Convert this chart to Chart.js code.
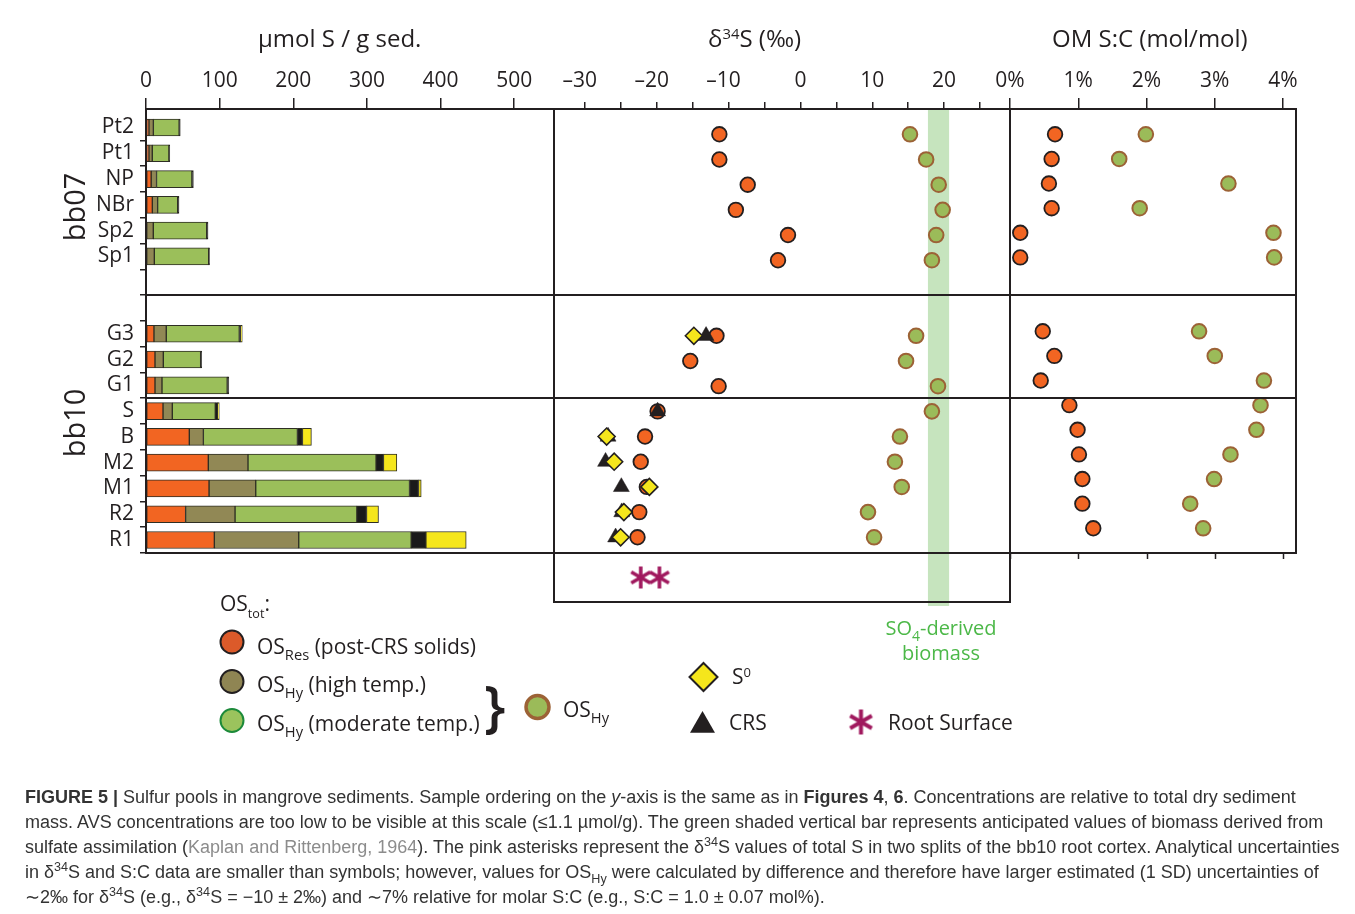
<!DOCTYPE html>
<html>
<head>
<meta charset="utf-8">
<script src="https://cdn.jsdelivr.net/npm/chart.js@4.4.1/dist/chart.umd.min.js"></script>
<style>
  html, body { margin: 0; padding: 0; background: #fff; }
  #fig { position: relative; width: 1355px; height: 914px; overflow: hidden;
         font-family: "Open Sans", sans-serif; color: #231f20; background: #fff; }
  #fig canvas { position: absolute; left: 0; top: 0; }
  .t { position: absolute; white-space: nowrap; line-height: 1; }
  .t sub { font-size: 0.7em; vertical-align: -0.4em; line-height: 0; }
  .t sup { font-size: 0.62em; vertical-align: 0.55em; line-height: 0; }
  .grp { position: absolute; white-space: nowrap; line-height: 1; font-size: 29px;
         transform: translate(-50%, -50%) rotate(-90deg); }
  #cap { position: absolute; left: 25px; top: 785px; font-family: "Liberation Sans", Arial, sans-serif;
         font-size: 18px; line-height: 25px; color: #333; white-space: nowrap; }
  #cap sup, #cap sub { font-size: 0.7em; line-height: 0; }
  #cap .ref { color: #8c8c8c; }
</style>
</head>
<body>
<div id="fig">
  <canvas id="concChart" width="1355" height="914"></canvas>
  <canvas id="d34Chart" width="1355" height="914"></canvas>
  <canvas id="scChart" width="1355" height="914"></canvas>

  <!-- panel titles -->
  <div class="t" style="left:258px;top:26px;font-size:24px;">µmol S / g sed.</div>
  <div class="t" style="left:708px;top:26px;font-size:24px;">δ<sup>34</sup>S (‰)</div>
  <div class="t" style="left:1052px;top:26px;font-size:24px;">OM S:C (mol/mol)</div>

  <!-- site groups -->
  <div class="grp" style="left:73px;top:207px;">bb07</div>
  <div class="grp" style="left:73px;top:423px;">bb10</div>

  <!-- legend text -->
  <div class="t" style="left:220px;top:593px;font-size:21px;">OS<sub style="font-size:0.6em;vertical-align:-0.55em">tot</sub>:</div>
  <div class="t" style="left:257px;top:636px;font-size:21px;">OS<sub>Res</sub> (post-CRS solids)</div>
  <div class="t" style="left:257px;top:674px;font-size:21px;">OS<sub>Hy</sub> (high temp.)</div>
  <div class="t" style="left:257px;top:713px;font-size:21px;">OS<sub>Hy</sub> (moderate temp.)</div>
  <div class="t" style="left:484px;top:676px;font-size:56px;font-weight:600;">}</div>
  <div class="t" style="left:563px;top:699px;font-size:21px;">OS<sub>Hy</sub></div>
  <div class="t" style="left:732px;top:666px;font-size:21px;">S<sup>0</sup></div>
  <div class="t" style="left:729px;top:712px;font-size:21px;">CRS</div>
  <div class="t" style="left:888px;top:712px;font-size:21px;">Root Surface</div>
  <div class="t" style="left:841px;width:200px;text-align:center;top:615px;font-size:20px;line-height:25px;color:#4cb848;">SO<sub>4</sub>-derived<br>biomass</div>

  <div id="cap">
    <b>FIGURE 5 |</b> Sulfur pools in mangrove sediments. Sample ordering on the <i>y</i>-axis is the same as in <b>Figures 4</b>, <b>6</b>. Concentrations are relative to total dry sediment<br>
    mass. AVS concentrations are too low to be visible at this scale (≤1.1 µmol/g). The green shaded vertical bar represents anticipated values of biomass derived from<br>
    sulfate assimilation (<span class="ref">Kaplan and Rittenberg, 1964</span>). The pink asterisks represent the δ<sup>34</sup>S values of total S in two splits of the bb10 root cortex. Analytical uncertainties<br>
    in δ<sup>34</sup>S and S:C data are smaller than symbols; however, values for OS<sub>Hy</sub> were calculated by difference and therefore have larger estimated (1 SD) uncertainties of<br>
    ∼2‰ for δ<sup>34</sup>S (e.g., δ<sup>34</sup>S = −10 ± 2‰) and ∼7% relative for molar S:C (e.g., S:C = 1.0 ± 0.07 mol%).
  </div>
</div>

<script>
// ---- samples ----
const bb07 = ['Pt2', 'Pt1', 'NP', 'NBr', 'Sp2', 'Sp1'];
const bb10 = ['G3', 'G2', 'G1', 'S', 'B', 'M2', 'M1', 'R2', 'R1'];

// ---- sulfur pools, µmol S / g dry sediment ----
const osRes    = [4, 4, 7, 8.6, null, null,        10.8, 12.2, 12.2, 23.1, 58.8, 84.6, 85.6, 53.8, 92.8];
const osHyHigh = [6, 4.5, 7.3, 7.2, 9.9, 11.3,     16.7, 11.3, 9.5, 12.6, 19.1, 53.9, 63.4, 67.1, 114.6];
const osHyMod  = [35, 22.6, 48, 27.2, 72.5, 73.8,  99.2, 50.7, 88.6, 58.4, 127.7, 173.9, 208.8, 165.4, 152.7];
const crs      = [1.5, 1.2, 2, 1.8, 1.8, 1.2,      1.5, 1.5, 2.2, 3.2, 6.8, 10, 12.2, 13.1, 19.9];
const s0       = [null, null, null, null, null, null, 2.5, null, null, 2.2, 12.2, 18.2, 3.7, 16.3, 54.8];

// ---- δ34S, ‰ ----
const d34Res = [-11.3, -11.3, -7.35, -9.0, -1.74, -3.13,   -11.7, -15.35, -11.4, -19.9, -21.65, -22.25, -21.4, -22.45, -22.7];
const d34Hy  = [15.25, 17.5, 19.25, 19.8, 18.9, 18.3,      16.1, 14.7, 19.15, 18.3, 13.85, 13.15, 14.1, 9.4, 10.25];
const d34Crs = [null, null, null, null, null, null,        -13.15, null, null, -19.9, -26.8, -27.15, -24.95, -24.9, -25.75];
const d34S0  = [null, null, null, null, null, null,        -14.85, null, null, null, -27.0, -25.95, -21.05, -24.6, -25.05];
const d34RootSurface = [-22.25, -19.65];
const biomassRange = [17.75, 20.7];

// ---- organic matter S:C, mol % ----
const scRes = [0.66, 0.61, 0.57, 0.61, 0.15, 0.15,  0.48, 0.65, 0.45, 0.87, 0.99, 1.01, 1.06, 1.06, 1.22];
const scHy  = [1.99, 1.60, 3.20, 1.90, 3.86, 3.87,  2.77, 3.00, 3.72, 3.67, 3.61, 3.23, 2.99, 2.64, 2.83];

// ---- tick values ----
const concTicks = [0, 100, 200, 300, 400, 500];
const d34Ticks = [-30, -25, -20, -15, -10, -5, 0, 5, 10, 15, 20, 25];
const scTicks = [0, 1, 2, 3, 4];

// ---- layout ----
const INK = '#231f20';
const FONT = '"Open Sans", sans-serif';
Chart.defaults.font.family = FONT;
Chart.defaults.color = INK;

const samples = bb07.concat(bb10);
const GROUP_GAP = 2;
const rows = samples.map((s, i) => (i < bb07.length ? i : i + GROUP_GAP));
const lastRow = rows[rows.length - 1];
const groupDividers = [bb07.length - 1 + (GROUP_GAP + 1) / 2, rows[bb07.length + 2] + 0.5];
const rowBoundaries = [];
for (let b = 0.5; b <= lastRow + 0.5; b += 1) rowBoundaries.push(b);
const labelAt = v => { const i = rows.indexOf(v); return i >= 0 ? samples[i] : ''; };

const TOP = 109, PANEL_BOTTOM = 553, ROOT_BOTTOM = 602;
// pixel rows of the first and last sample in each panel
const rowSpan = { conc: [127.5, 540], d34: [134.3, 537.3], sc: [134.3, 528.3] };
function rowRange(span, top, bottom) {
  const per = (span[1] - span[0]) / lastRow;
  return { min: (top - span[0]) / per, max: (bottom - span[0]) / per, per };
}
const concRows = rowRange(rowSpan.conc, TOP, PANEL_BOTTOM);
const d34Rows = rowRange(rowSpan.d34, TOP, ROOT_BOTTOM);
const scRows = rowRange(rowSpan.sc, TOP, PANEL_BOTTOM);
const rootRow = (577.5 - rowSpan.d34[0]) / d34Rows.per;

const pts = (xs) => xs.map((v, i) => (v === null ? null : { x: v, y: rows[i] })).filter(Boolean);

// six-armed asterisk used as a point style
function makeAsterisk(size, lw, color) {
  const c = document.createElement('canvas');
  c.width = size + 4; c.height = size + 4;
  const g = c.getContext('2d');
  g.translate(c.width / 2, c.height / 2);
  g.strokeStyle = color; g.lineWidth = lw; g.lineCap = 'butt';
  const r = size / 2;
  [90, 30, 150].forEach(a => {
    const t = a * Math.PI / 180;
    g.beginPath();
    g.moveTo(-r * Math.cos(t), -r * Math.sin(t));
    g.lineTo(r * Math.cos(t), r * Math.sin(t));
    g.stroke();
  });
  return c;
}
const ROOT_COLOR = '#a0195e';
const asteriskPoint = makeAsterisk(22, 3.6, ROOT_COLOR);
const asteriskLegend = makeAsterisk(25, 4, ROOT_COLOR);

let concChart = null;

// frame, group dividers (shared with the bar panel's rows) and optional bottom ticks
const panelFrame = {
  id: 'panelFrame',
  afterDatasetsDraw(chart, args, opts) {
    const { ctx, chartArea: a, scales } = chart;
    const rowScale = (concChart || chart).scales.y;
    ctx.save();
    ctx.strokeStyle = INK;
    ctx.lineWidth = 2;
    ctx.strokeRect(a.left, a.top, a.right - a.left, a.bottom - a.top);
    (opts.dividers || []).forEach(r => {
      const py = Math.round(rowScale.getPixelForValue(r));
      ctx.beginPath(); ctx.moveTo(a.left, py); ctx.lineTo(a.right, py); ctx.stroke();
    });
    if (opts.bottomTicks) {
      ctx.lineWidth = 1.5;
      scales.x.ticks.forEach(t => {
        const px = Math.round(scales.x.getPixelForValue(t.value)) + 0.5;
        ctx.beginPath(); ctx.moveTo(px, a.bottom); ctx.lineTo(px, a.bottom + 6); ctx.stroke();
      });
    }
    ctx.restore();
  }
};

// shaded δ34S range of sulfate-derived biomass
const biomassBand = {
  id: 'biomassBand',
  beforeDatasetsDraw(chart, args, opts) {
    const { ctx, chartArea: a, scales: { x } } = chart;
    const x0 = x.getPixelForValue(opts.from), x1 = x.getPixelForValue(opts.to);
    ctx.save();
    ctx.fillStyle = opts.color;
    ctx.fillRect(x0, a.top + 1, x1 - x0, a.bottom - a.top + opts.overhang);
    ctx.restore();
  }
};

// legend symbols
function drawMark(ctx, m) {
  ctx.save();
  if (m.shape === 'image') {
    ctx.drawImage(m.img, m.x - m.img.width / 2, m.y - m.img.height / 2);
    ctx.restore();
    return;
  }
  ctx.fillStyle = m.fill; ctx.strokeStyle = m.stroke || INK; ctx.lineWidth = m.width || 0;
  ctx.beginPath();
  if (m.shape === 'circle') {
    ctx.arc(m.x, m.y, m.r, 0, Math.PI * 2);
  } else if (m.shape === 'diamond') {
    ctx.moveTo(m.x, m.y - m.r); ctx.lineTo(m.x + m.r, m.y); ctx.lineTo(m.x, m.y + m.r); ctx.lineTo(m.x - m.r, m.y); ctx.closePath();
  } else if (m.shape === 'triangle') {
    const h = m.r * Math.sqrt(3) / 2;
    ctx.moveTo(m.x, m.y - m.r); ctx.lineTo(m.x + h, m.y + m.r / 2); ctx.lineTo(m.x - h, m.y + m.r / 2); ctx.closePath();
  }
  ctx.fill();
  if (m.width) ctx.stroke();
  ctx.restore();
}
const legendMarks = {
  id: 'legendMarks',
  afterDraw(chart, args, opts) { opts.items.forEach(m => drawMark(chart.ctx, m)); }
};

function topAxis(min, max, ticks, fmt, tickLen, pad) {
  return {
    type: 'linear', position: 'top', min, max,
    afterBuildTicks: s => { s.ticks = ticks.map(v => ({ value: v })); },
    afterFit: s => { s.height = TOP; },
    ticks: { autoSkip: false, maxRotation: 0, padding: pad, color: INK, font: { size: 21 }, callback: fmt },
    grid: { drawOnChartArea: false, tickLength: tickLen, color: INK, lineWidth: 1.5 },
    border: { display: false }
  };
}
function hiddenRows(range) {
  return { type: 'linear', reverse: true, min: range.min, max: range.max, offset: false, display: false };
}
const common = { responsive: false, animation: false, events: [], devicePixelRatio: 1 };

// ---- concentration panel: stacked bars ----
const barSeries = [
  { label: 'OSRes', values: osRes, color: '#f26522' },
  { label: 'OSHy (high temp.)', values: osHyHigh, color: '#918855' },
  { label: 'OSHy (moderate temp.)', values: osHyMod, color: '#9bbf5a' },
  { label: 'CRS', values: crs, color: '#1a1a1a' },
  { label: 'S0', values: s0, color: '#f5e61c' }
];
concChart = new Chart(document.getElementById('concChart'), {
  type: 'bar',
  data: {
    datasets: barSeries.map(s => ({
      label: s.label, data: pts(s.values), backgroundColor: s.color,
      borderColor: '#2e2e24', borderWidth: 1, borderSkipped: false, barThickness: 17
    }))
  },
  options: {
    ...common,
    indexAxis: 'y',
    layout: { padding: { left: 0, top: 0, right: 1355 - 554, bottom: 914 - PANEL_BOTTOM } },
    plugins: { legend: { display: false }, tooltip: { enabled: false }, panelFrame: { dividers: groupDividers } },
    scales: {
      x: { ...topAxis(0, 554, concTicks, v => String(v), 11, 4), stacked: true },
      y: {
        type: 'linear', reverse: true, min: concRows.min, max: concRows.max, stacked: true, offset: false,
        afterBuildTicks: s => { s.ticks = rows.concat(rowBoundaries).sort((a, b) => a - b).map(v => ({ value: v })); },
        afterFit: s => { s.width = 146; },
        ticks: { autoSkip: false, padding: 6, color: INK, font: { size: 21 }, callback: v => labelAt(v) },
        grid: { drawOnChartArea: false, tickLength: 6, lineWidth: 1.5, offset: false,
                color: c => (c.tick && !Number.isInteger(c.tick.value) ? INK : 'rgba(0,0,0,0)') },
        border: { display: false }
      }
    }
  },
  plugins: [panelFrame]
});

// ---- δ34S panel ----
const d34Label = v => (v % 10 !== 0 ? '' : v < 0 ? '\u2013' + Math.abs(v) + '\u2002' : String(v));
new Chart(document.getElementById('d34Chart'), {
  type: 'scatter',
  data: {
    datasets: [
      { label: 'S0', order: 0, data: pts(d34S0), pointStyle: 'rectRot', pointRadius: 8.5,
        backgroundColor: '#f5e61c', borderColor: INK, borderWidth: 1.6 },
      { label: 'CRS', order: 1, data: pts(d34Crs), pointStyle: 'triangle', pointRadius: 9.2,
        backgroundColor: INK, borderColor: INK, borderWidth: 0.5 },
      { label: 'Root Surface', order: 2, data: d34RootSurface.map(v => ({ x: v, y: rootRow })),
        pointStyle: asteriskPoint, pointRadius: 10 },
      { label: 'OSRes', order: 3, data: pts(d34Res), pointStyle: 'circle', pointRadius: 7.3,
        backgroundColor: '#f26522', borderColor: INK, borderWidth: 1.8 },
      { label: 'OSHy', order: 4, data: pts(d34Hy), pointStyle: 'circle', pointRadius: 7.3,
        backgroundColor: '#9bbb59', borderColor: '#9c6236', borderWidth: 2 }
    ]
  },
  options: {
    ...common,
    layout: { padding: { left: 554, top: 0, right: 1355 - 1010, bottom: 914 - ROOT_BOTTOM } },
    plugins: {
      legend: { display: false }, tooltip: { enabled: false },
      panelFrame: { dividers: groupDividers.concat([lastRow + 0.5]) },
      biomassBand: { from: biomassRange[0], to: biomassRange[1], color: '#c6e4be', overhang: 3 },
      legendMarks: { items: [
        { shape: 'circle', x: 232, y: 642, r: 11.5, fill: '#dc5a2a', stroke: INK, width: 2 },
        { shape: 'circle', x: 232, y: 681.5, r: 11.5, fill: '#8f8553', stroke: INK, width: 2 },
        { shape: 'circle', x: 232, y: 720.5, r: 11.5, fill: '#9bc35d', stroke: '#1c8a3a', width: 2 },
        { shape: 'circle', x: 537.5, y: 707, r: 11.5, fill: '#9bbb59', stroke: '#9c6236', width: 3.5 },
        { shape: 'diamond', x: 703.5, y: 677, r: 14, fill: '#f5e61c', stroke: INK, width: 2 },
        { shape: 'triangle', x: 702.5, y: 725.5, r: 14.4, fill: INK },
        { shape: 'image', x: 861, y: 722, img: asteriskLegend }
      ] }
    },
    scales: {
      x: topAxis(-34.33, 29.18, d34Ticks, d34Label, 7, 8),
      y: hiddenRows(d34Rows)
    }
  },
  plugins: [biomassBand, panelFrame, legendMarks]
});

// ---- S:C panel ----
new Chart(document.getElementById('scChart'), {
  type: 'scatter',
  data: {
    datasets: [
      { label: 'OSRes', order: 0, data: pts(scRes), pointStyle: 'circle', pointRadius: 7.3,
        backgroundColor: '#f26522', borderColor: INK, borderWidth: 1.8 },
      { label: 'OSHy', order: 1, data: pts(scHy), pointStyle: 'circle', pointRadius: 7.3,
        backgroundColor: '#9bbb59', borderColor: '#9c6236', borderWidth: 2 }
    ]
  },
  options: {
    ...common,
    layout: { padding: { left: 1010, top: 0, right: 1355 - 1296, bottom: 914 - PANEL_BOTTOM } },
    plugins: { legend: { display: false }, tooltip: { enabled: false },
               panelFrame: { dividers: groupDividers, bottomTicks: true } },
    scales: {
      x: topAxis(0, 4.19, scTicks, v => v + '%', 11, 4),
      y: hiddenRows(scRows)
    }
  },
  plugins: [panelFrame]
});
</script>
</body>
</html>
